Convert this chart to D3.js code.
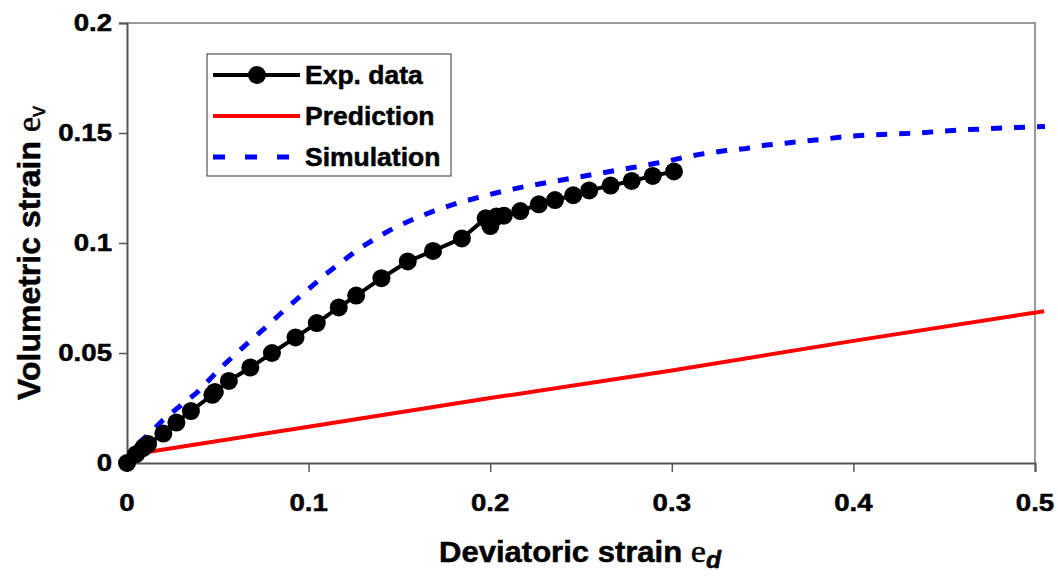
<!DOCTYPE html>
<html><head><meta charset="utf-8">
<script src="https://cdn.jsdelivr.net/npm/d3@7"></script>
<style>body{margin:0;background:#fff}svg{display:block}text{font-family:"Liberation Sans",Arial,sans-serif;font-weight:bold;fill:#000;stroke:#000;stroke-width:0.5px}</style>
</head><body><svg id="c" width="1058" height="576"></svg>
<script>
// Experimental data [deviatoric strain, volumetric strain]
const expX = [0,0.005,0.0088,0.0116,0.020,0.0272,0.0352,0.047,0.0484,0.0561,0.0679,0.0798,0.0928,0.1045,0.1166,0.1262,0.1401,0.1546,0.1685,0.1844,0.1975,0.2001,0.2034,0.2075,0.2166,0.2268,0.2357,0.2457,0.2545,0.2663,0.2779,0.2895,0.3012];
const expY = [0,0.004,0.0068,0.0086,0.0134,0.0184,0.0236,0.031,0.0323,0.0373,0.0434,0.050,0.0571,0.0636,0.0707,0.0761,0.084,0.0916,0.0964,0.1021,0.1112,0.1077,0.112,0.1124,0.1145,0.1176,0.1195,0.1217,0.1239,0.1261,0.1282,0.1305,0.1325];
// Prediction
const predX = [0.008,0.1,0.2,0.3,0.4,0.505];
const predY = [0.0045,0.0165,0.0295,0.042,0.0555,0.069];
// Simulation
const simX = [0,0.007,0.0127,0.0198,0.0292,0.0385,0.0462,0.055,0.066,0.0768,0.0877,0.0985,0.1089,0.1188,0.1276,0.1381,0.1469,0.1579,0.1689,0.1821,0.1953,0.2074,0.2206,0.2343,0.2481,0.2585,0.2684,0.2794,0.2904,0.2992,0.3064,0.3168,0.33,0.341,0.352,0.3647,0.3828,0.3977,0.4125,0.4334,0.4593,0.4868,0.5055];
const simY = [0,0.0095,0.0136,0.0195,0.0259,0.032,0.0386,0.0459,0.0541,0.062,0.0703,0.078,0.0855,0.0918,0.0973,0.1027,0.1068,0.1109,0.1145,0.1182,0.1211,0.1236,0.1259,0.1279,0.1299,0.1314,0.1329,0.1344,0.1361,0.1375,0.1389,0.1405,0.142,0.143,0.1445,0.1456,0.1471,0.1486,0.1492,0.1499,0.1514,0.1524,0.153];
const xTicks = [0,0.1,0.2,0.3,0.4,0.5];
const yTicks = [0,0.05,0.1,0.15,0.2];
const xTickLabels = ["0","0.1","0.2","0.3","0.4","0.5"];
const yTickLabels = ["0","0.05","0.1","0.15","0.2"];
const legendLabels = ["Exp. data","Prediction","Simulation"];

const svg = d3.select("#c");
const L=127,R=1035,T=23,B=463;
const x = d3.scaleLinear().domain([0,0.5]).range([L,R]);
const y = d3.scaleLinear().domain([0,0.2]).range([B,T]);
const SX = 1.15;

// frame top/right
svg.append("path").attr("d",`M${L},${T}H${R}V${B}`).attr("fill","none").attr("stroke","#999").attr("stroke-width",2);

// axes
const yAxis = svg.append("g").attr("transform",`translate(${L},0)`)
  .call(d3.axisLeft(y).tickValues(yTicks).tickSize(8).tickFormat(""));
const xAxis = svg.append("g").attr("transform",`translate(0,${B})`)
  .call(d3.axisBottom(x).tickValues(xTicks).tickSize(9).tickFormat(""));
[yAxis,xAxis].forEach(g=>{g.select(".domain").attr("stroke","#555").attr("stroke-width",2);g.selectAll(".tick line").attr("stroke","#555").attr("stroke-width",1.5);});

function txt(px,py,s,anchor,size){
  return svg.append("text").attr("transform",`translate(${px},${py}) scale(${SX},1)`)
    .attr("text-anchor",anchor).attr("font-size",size).text(s);
}
yTicks.forEach((v,i)=>txt(L-15,y(v)+8,yTickLabels[i],"end",24));
xTicks.forEach((v,i)=>txt(x(v),511,xTickLabels[i],"middle",24));

// x title
const xt = svg.append("text").attr("transform",`translate(580,562) scale(1.07,1)`).attr("text-anchor","middle").attr("font-size",29);
xt.append("tspan").text("Deviatoric strain ");
xt.append("tspan").attr("font-family","Liberation Serif").attr("font-weight","normal").attr("font-size",32).text("e");
xt.append("tspan").attr("font-style","italic").attr("font-size",23).attr("dy",6).text("d");
// y title
const yt = svg.append("text").attr("transform",`translate(40,253) rotate(-90)`).attr("text-anchor","middle").attr("font-size",32);
yt.append("tspan").text("Volumetric strain ");
yt.append("tspan").attr("font-family","Liberation Serif").attr("font-weight","normal").attr("font-size",34).text("e");
yt.append("tspan").attr("font-weight","normal").attr("font-size",22).attr("dy",5).text("v");

const line = d3.line().x(d=>x(d[0])).y(d=>y(d[1]));
const pred = predX.map((v,i)=>[v,predY[i]]);
const sim = simX.map((v,i)=>[v,simY[i]]);
const exp = expX.map((v,i)=>[v,expY[i]]);

svg.append("path").datum(pred).attr("d",line).attr("fill","none").attr("stroke","#ff0000").attr("stroke-width",4);
svg.append("path").datum(sim).attr("d",line).attr("fill","none").attr("stroke","#0000ff").attr("stroke-width",5).attr("stroke-dasharray","11,12");
svg.append("path").datum(exp).attr("d",line).attr("fill","none").attr("stroke","#000").attr("stroke-width",4);
svg.append("g").selectAll("circle").data(exp).join("circle").attr("cx",d=>x(d[0])).attr("cy",d=>y(d[1])).attr("r",9).attr("fill","#000");

// legend
const lg = svg.append("g");
lg.append("rect").attr("x",207).attr("y",54).attr("width",244).attr("height",122).attr("fill","#fff").attr("stroke","#333").attr("stroke-width",1);
const rows=[75,116,157];
lg.append("line").attr("x1",213).attr("x2",300).attr("y1",rows[0]).attr("y2",rows[0]).attr("stroke","#000").attr("stroke-width",4);
lg.append("circle").attr("cx",257).attr("cy",rows[0]).attr("r",9).attr("fill","#000");
lg.append("line").attr("x1",213).attr("x2",300).attr("y1",rows[1]).attr("y2",rows[1]).attr("stroke","#ff0000").attr("stroke-width",4);
lg.append("line").attr("x1",213).attr("x2",290).attr("y1",rows[2]).attr("y2",rows[2]).attr("stroke","#0000ff").attr("stroke-width",5).attr("stroke-dasharray","12,20");
legendLabels.forEach((s,i)=>{
  lg.append("text").attr("transform",`translate(305,${rows[i]+9}) scale(1.06,1)`).attr("font-size",25).text(s);
});
</script></body></html>
